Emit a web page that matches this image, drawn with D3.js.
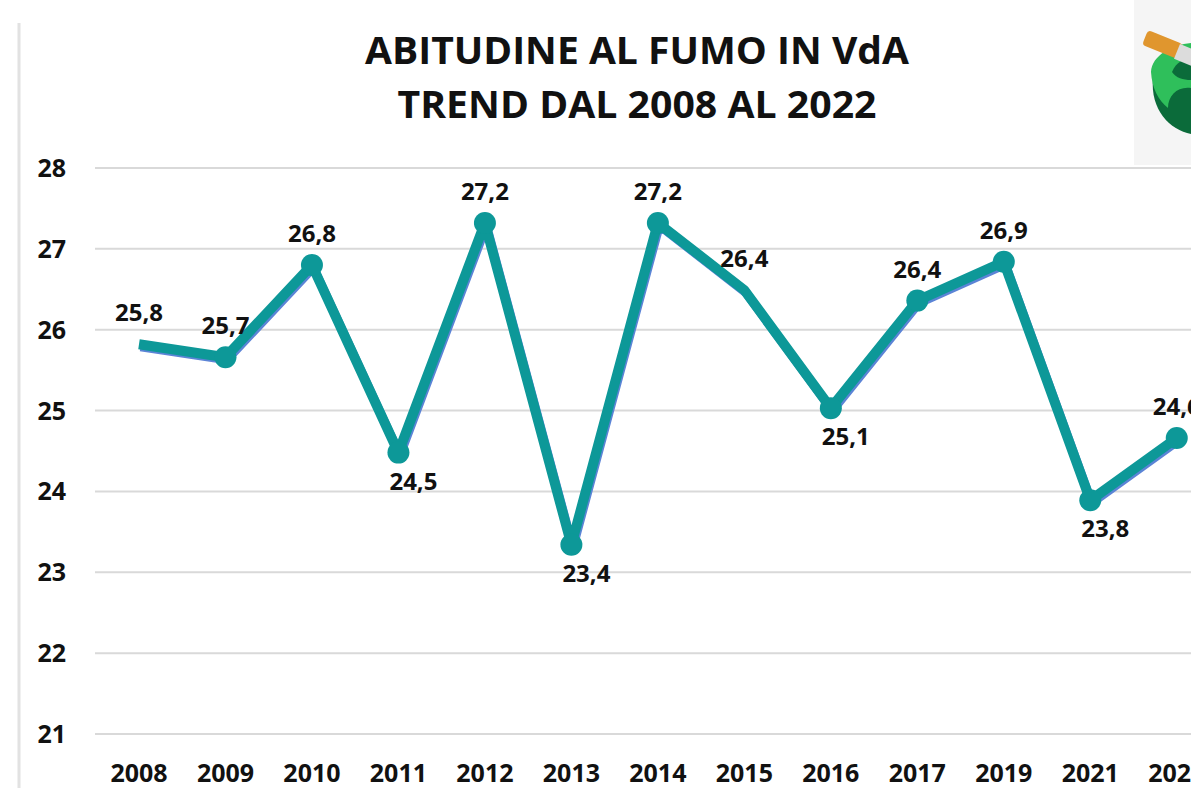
<!DOCTYPE html>
<html>
<head>
<meta charset="utf-8">
<script src="https://cdn.jsdelivr.net/npm/d3@7"></script>
<style>
  body { margin: 0; background: #fff; }
  svg { display: block; }
</style>
</head>
<body>
<script>
// data
var years = ["2008", "2009", "2010", "2011", "2012", "2013", "2014",
             "2015", "2016", "2017", "2019", "2021", "2022"];
var values = [25.82, 25.66, 26.8, 24.48, 27.32, 23.34, 27.32,
              26.49, 25.03, 26.36, 26.84, 23.89, 24.66];
var labels = ["25,8", "25,7", "26,8", "24,5", "27,2", "23,4", "27,2",
              "26,4", "25,1", "26,4", "26,9", "23,8", "24,6"];
var labelSide = ["above", "above", "above", "below", "above", "below", "above",
                 "above", "below", "above", "above", "below", "above"];
var hasMarker = [false, true, true, true, true, true, true,
                 false, true, true, true, true, true];
var yTicks = [21, 22, 23, 24, 25, 26, 27, 28];
var titleLines = ["ABITUDINE AL FUMO IN VdA", "TREND DAL 2008 AL 2022"];

var W = 1191, H = 788;
var font = "'Open Sans', 'DejaVu Sans', sans-serif";
var teal = "#0d9898";

var svg = d3.select("body").append("svg")
    .attr("width", W)
    .attr("height", H);

var x = d3.scaleBand()
    .domain(years)
    .range([95.75, 1220]);
var y = d3.scaleLinear()
    .domain([21, 28])
    .range([734, 168]);

function cx(i) { return x(years[i]) + x.bandwidth() / 2; }

// left border line
svg.append("line")
    .attr("x1", 19).attr("x2", 19)
    .attr("y1", 23).attr("y2", H)
    .style("stroke", "#e2e2e2")
    .style("stroke-width", 3);

// logo box top right
var logo = svg.append("g");
logo.append("rect")
    .attr("x", 1134).attr("y", 0)
    .attr("width", 60).attr("height", 165)
    .style("fill", "#f5f5f5");
logo.append("path")
    .attr("d", "M1153,78 C1150,110 1170,130 1191,134 L1191,70 Z")
    .style("fill", "#0b6b3a");
logo.append("path")
    .attr("d", "M1151,72 C1152,55 1172,45 1191,43 L1191,88 C1178,86 1168,95 1168,108 C1158,100 1152,88 1151,72 Z")
    .style("fill", "#2fbf5b");
logo.append("path")
    .attr("d", "M1172,72 C1176,62 1185,58 1191,58 L1191,80 C1183,80 1176,78 1172,72 Z")
    .style("fill", "#0b6b3a");
logo.append("rect")
    .attr("x", 1148).attr("y", 30)
    .attr("width", 38).attr("height", 16)
    .attr("rx", 4)
    .attr("transform", "rotate(22,1148,30)")
    .style("fill", "#e0962e");
logo.append("rect")
    .attr("x", 1180).attr("y", 44)
    .attr("width", 20).attr("height", 16)
    .attr("transform", "rotate(22,1180,44)")
    .style("fill", "#dcdcdc");

// title
svg.selectAll("text.title")
    .data(titleLines)
    .enter()
    .append("text")
    .attr("class", "title")
    .attr("x", 637)
    .attr("y", function(d, i) { return 64 + i * 54; })
    .attr("text-anchor", "middle")
    .attr("textLength", function(d, i) { return i == 0 ? 544 : 479; })
    .attr("lengthAdjust", "spacingAndGlyphs")
    .style("font-family", font)
    .style("font-weight", "bold")
    .style("font-size", "37px")
    .style("fill", "#111")
    .text(function(d) { return d; });

// gridlines
svg.selectAll("line.grid")
    .data(yTicks)
    .enter()
    .append("line")
    .attr("class", "grid")
    .attr("x1", 95).attr("x2", W)
    .attr("y1", function(d) { return y(d); })
    .attr("y2", function(d) { return y(d); })
    .style("stroke", "#d9d9d9")
    .style("stroke-width", 2);

// y labels
svg.selectAll("text.ylab")
    .data(yTicks)
    .enter()
    .append("text")
    .attr("class", "ylab")
    .attr("x", 66)
    .attr("y", function(d) { return y(d) + 9; })
    .attr("text-anchor", "end")
    .style("font-family", font)
    .style("font-weight", "bold")
    .style("font-size", "25px")
    .style("fill", "#111")
    .text(function(d) { return d; });

// x labels
svg.selectAll("text.xlab")
    .data(years)
    .enter()
    .append("text")
    .attr("class", "xlab")
    .attr("x", function(d, i) { return cx(i); })
    .attr("y", 782)
    .attr("text-anchor", "middle")
    .style("font-family", font)
    .style("font-weight", "bold")
    .style("font-size", "25px")
    .style("fill", "#111")
    .text(function(d) { return d; });

var line = d3.line()
    .x(function(d, i) { return cx(i); })
    .y(function(d) { return y(d); });

// thin blue shadow under the line
svg.append("path")
    .datum(values)
    .attr("d", line)
    .attr("transform", "translate(1.5,2.5)")
    .style("fill", "none")
    .style("stroke", "#5b84d6")
    .style("stroke-width", 9)
    .style("stroke-linejoin", "round");

svg.append("path")
    .datum(values)
    .attr("d", line)
    .style("fill", "none")
    .style("stroke", teal)
    .style("stroke-width", 10)
    .style("stroke-linejoin", "round");

svg.selectAll("circle.pt")
    .data(values.map(function(v, i) { return {v: v, i: i}; })
        .filter(function(d) { return hasMarker[d.i]; }))
    .enter()
    .append("circle")
    .attr("class", "pt")
    .attr("cx", function(d) { return cx(d.i); })
    .attr("cy", function(d) { return y(d.v); })
    .attr("r", 11)
    .style("fill", teal);

// data labels
svg.selectAll("text.val")
    .data(values)
    .enter()
    .append("text")
    .attr("class", "val")
    .attr("x", function(d, i) { return cx(i) + (labelSide[i] == "below" ? 15 : 0); })
    .attr("y", function(d, i) { return y(d) + (labelSide[i] == "below" ? 37 : -23); })
    .attr("text-anchor", "middle")
    .style("font-family", font)
    .style("font-weight", "bold")
    .style("font-size", "24px")
    .style("fill", "#111")
    .text(function(d, i) { return labels[i]; });
</script>
</body>
</html>
